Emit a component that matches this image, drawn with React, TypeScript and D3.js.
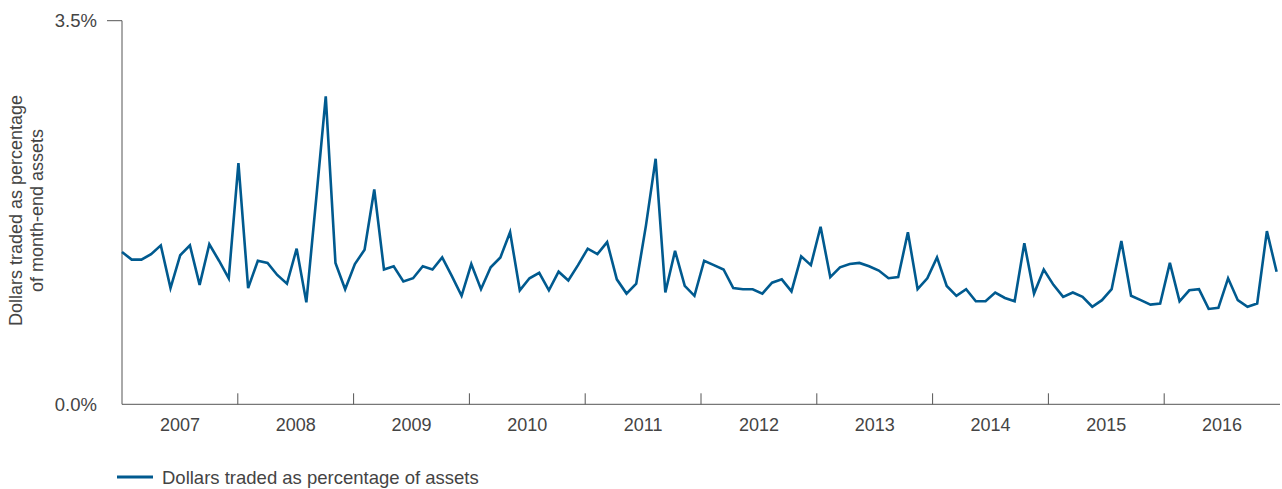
import React from "react";
import * as d3 from "d3";

// Years shown on the x axis
const years = [2007, 2008, 2009, 2010, 2011, 2012, 2013, 2014, 2015, 2016];

// Y-axis tick labels (percent)
const yTicks = [0, 3.5];

// Monthly dollars traded as percentage of month-end assets, Jan 2007 – Dec 2016
const turnover = [
  // 2007
  1.39, 1.32, 1.32, 1.37, 1.45, 1.06, 1.36, 1.45, 1.09, 1.46, 1.31, 1.15,
  // 2008
  2.2, 1.06, 1.31, 1.29, 1.18, 1.1, 1.42, 0.93, 1.86, 2.81, 1.29, 1.05,
  // 2009
  1.28, 1.41, 1.96, 1.23, 1.26, 1.12, 1.15, 1.26, 1.23, 1.34, 1.17, 0.99,
  // 2010
  1.28, 1.05, 1.25, 1.34, 1.57, 1.04, 1.15, 1.2, 1.04, 1.21, 1.13, 1.27,
  // 2011
  1.42, 1.37, 1.48, 1.14, 1.01, 1.1, 1.63, 2.24, 1.02, 1.4, 1.08, 0.99,
  // 2012
  1.31, 1.27, 1.23, 1.06, 1.05, 1.05, 1.01, 1.11, 1.14, 1.03, 1.35, 1.27,
  // 2013
  1.62, 1.16, 1.25, 1.28, 1.29, 1.26, 1.22, 1.15, 1.16, 1.57, 1.05, 1.15,
  // 2014
  1.34, 1.08, 0.99, 1.05, 0.94, 0.94, 1.02, 0.97, 0.94, 1.47, 1.01, 1.23,
  // 2015
  1.09, 0.98, 1.02, 0.98, 0.89, 0.95, 1.05, 1.49, 0.99, 0.95, 0.91, 0.92,
  // 2016
  1.29, 0.94, 1.04, 1.05, 0.87, 0.88, 1.15, 0.95, 0.89, 0.92, 1.58, 1.21,
];

const seriesName = "Dollars traded as percentage of assets";
const yTitle = ["Dollars traded as percentage", "of month-end assets"];

const months = years.flatMap((y) =>
  d3.range(1, 13).map((m) => `${y}-${String(m).padStart(2, "0")}`)
);

const W = 1282;
const H = 489;
const left = 122;
const right = 1280;
const top = 20.7;
const bottom = 404.3;

const FONT = "'Liberation Sans', Arial, sans-serif";
const TEXT = "#444";
const AXIS = "#555";
const BLUE = "#005a8f";

export default function App() {
  const x = d3.scalePoint<string>().domain(months).range([left, 1276.6]);
  const xYear = d3
    .scaleLinear()
    .domain([years[0], years[years.length - 1] + 1])
    .range([left, right]);
  const y = d3.scaleLinear().domain([0, 3.5]).range([bottom, top]);

  const line = d3
    .line<number>()
    .x((_, i) => x(months[i]) as number)
    .y((d) => y(d));

  const fmt = d3.format(".1f");

  return (
    <svg
      width={W}
      height={H}
      style={{ position: "absolute", left: 0, top: 0, background: "#fff" }}
      fontFamily={FONT}
    >
      {/* y axis */}
      <line x1={left} x2={left} y1={y(3.5)} y2={bottom} stroke={AXIS} strokeWidth={1} />
      <line x1={107} x2={left} y1={y(3.5)} y2={y(3.5)} stroke={AXIS} strokeWidth={1} />
      {yTicks.map((t) => (
        <text
          key={t}
          x={97}
          y={y(t)}
          dy="0.35em"
          textAnchor="end"
          fontSize={18.5}
          fill={TEXT}
        >
          {fmt(t) + "%"}
        </text>
      ))}

      {/* y title */}
      <g transform={`translate(0, ${(top + bottom) / 2 - 2}) rotate(-90)`}>
        <text x={0} y={22} textAnchor="middle" fontSize={18} fill={TEXT}>
          {yTitle[0]}
        </text>
        <text x={0} y={43} textAnchor="middle" fontSize={18} fill={TEXT}>
          {yTitle[1]}
        </text>
      </g>

      {/* x axis */}
      <line x1={left} x2={right} y1={bottom} y2={bottom} stroke={AXIS} strokeWidth={1} />
      {years.slice(1).map((yr) => (
        <line
          key={yr}
          x1={xYear(yr)}
          x2={xYear(yr)}
          y1={bottom - 11}
          y2={bottom}
          stroke={AXIS}
          strokeWidth={1}
        />
      ))}
      {years.map((yr) => (
        <text
          key={yr}
          x={xYear(yr + 0.5)}
          y={431}
          textAnchor="middle"
          fontSize={18}
          fill={TEXT}
        >
          {yr}
        </text>
      ))}

      {/* series */}
      <path
        d={line(turnover) || ""}
        fill="none"
        stroke={BLUE}
        strokeWidth={2.6}
        strokeLinejoin="miter"
      />

      {/* legend */}
      <line x1={117} x2={153} y1={477} y2={477} stroke={BLUE} strokeWidth={3} />
      <text x={162} y={483.5} fontSize={18.5} fill={TEXT}>
        {seriesName}
      </text>
    </svg>
  );
}
